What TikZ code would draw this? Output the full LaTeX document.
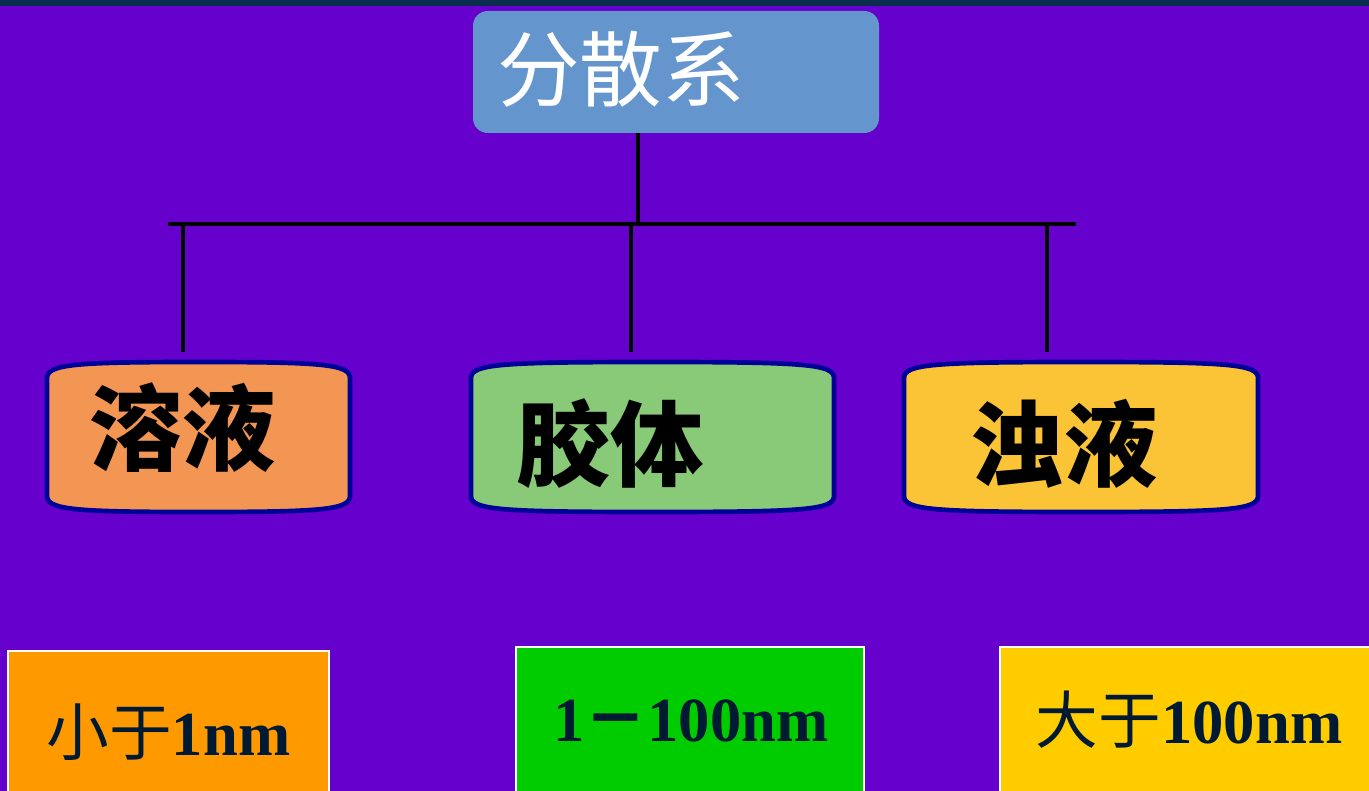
\documentclass[tikz,border=0pt]{standalone}
\usepackage{fontspec}
\setmainfont{Liberation Serif}
\newfontfamily\cjk{Noto Sans CJK SC}
\usetikzlibrary{calc}
\definecolor{bgpurple}{HTML}{6600CC}
\definecolor{strip}{HTML}{0B2D4E}
\definecolor{topblue}{HTML}{6495CD}
\definecolor{boxborder}{HTML}{000099}
\definecolor{orangeA}{HTML}{F39654}
\definecolor{greenA}{HTML}{88CA77}
\definecolor{yellowA}{HTML}{FBC437}
\definecolor{orangeB}{HTML}{FF9900}
\definecolor{greenB}{HTML}{00CC00}
\definecolor{yellowB}{HTML}{FFCC00}
\definecolor{navytext}{HTML}{001A33}
\newcommand\bulgebox[5]{%
  \draw[fill=#1,draw=boxborder,line width=3.5pt]
    (#2,{#3+16}) .. controls (#2,{#3+2}) and ({#2+30},#3) .. ({(#2+#4)/2},#3)
    .. controls ({#4-30},#3) and (#4,{#3+2}) .. (#4,{#3+16})
    -- (#4,{#5-16})
    .. controls (#4,{#5-2}) and ({#4-30},#5) .. ({(#2+#4)/2},#5)
    .. controls ({#2+30},#5) and (#2,{#5-2}) .. (#2,{#5-16}) -- cycle;}
\begin{document}
\begin{tikzpicture}[x=0.75pt,y=-0.75pt,
  conn/.style={draw=black,line width=3.6pt},
  topbox/.style={fill=topblue,draw=none,rounded corners=11pt,inner sep=0pt},
  holder/.style={draw=none,inner sep=0pt},
  midtext/.style={inner sep=0pt,text=black,font=\cjk\bfseries\fontsize{70}{70}\selectfont},
  lowbox/.style={draw=white,line width=1pt,inner sep=0pt},
  lowtext/.style={inner sep=0pt,text=navytext,font=\fontsize{47}{47}\selectfont}]
\path[use as bounding box] (0,0) rectangle (1369,791);
\clip (0,0) rectangle (1369,791);
\fill[bgpurple] (0,0) rectangle (1369,791);
\fill[strip] (0,0) rectangle (1369,6);

% bottom boxes
\node[lowbox,fill=orangeB,minimum width=240.75pt,minimum height=120pt] (sa) at (168.5,731) {};
\node[lowbox,fill=greenB,minimum width=261pt,minimum height=111pt] (sb) at (690,721) {};
\node[lowbox,fill=yellowB,minimum width=292.5pt,minimum height=111pt] (sc) at (1195,721) {};
\node[lowtext] (ta) at (168.5,732) {{\cjk 小于}\textbf{1nm}};
\node[lowtext] (tb) at (691,721) {\textbf{1}{\cjk\bfseries －}\textbf{100nm}};
\node[lowtext] (tc) at (1189,720) {{\cjk 大于}\textbf{100nm}};

% top box
\node[topbox,minimum width=304.5pt,minimum height=91.5pt] (root) at (676,72) {};
\node[anchor=west,inner sep=0pt,text=white,font=\cjk\fontsize{62}{62}\selectfont] (roottext) at (497,69) {分散系};

% middle boxes
\bulgebox{orangeA}{47}{362}{350}{512}
\bulgebox{greenA}{471}{362}{834}{512}
\bulgebox{yellowA}{904}{362}{1258}{512}
\node[holder,minimum width=227.25pt,minimum height=112.5pt] (sol) at (198.5,437) {};
\node[holder,minimum width=272.25pt,minimum height=112.5pt] (col) at (652.5,437) {};
\node[holder,minimum width=265.5pt,minimum height=112.5pt] (sus) at (1081,437) {};
\node[midtext] (soltext) at (182.5,428) {溶液};
\node[midtext] (coltext) at (610,444) {胶体};
\node[midtext] (sustext) at (1064,444) {浊液};

% connectors
\coordinate (j) at (638,224);
\coordinate (barL) at (168,224);
\coordinate (barR) at (1076,224);
\coordinate (d1) at (183,224);
\coordinate (d2) at (631,224);
\coordinate (d3) at (1047,224);
\coordinate (e1) at (183,352);
\coordinate (e2) at (631,352);
\coordinate (e3) at (1047,352);
\draw[conn] (root.south -| j) -- (j);
\draw[conn] (barL) -- (barR);
\draw[conn] (d1) -- (e1);
\draw[conn] (d2) -- (e2);
\draw[conn] (d3) -- (e3);
\end{tikzpicture}
\end{document}
